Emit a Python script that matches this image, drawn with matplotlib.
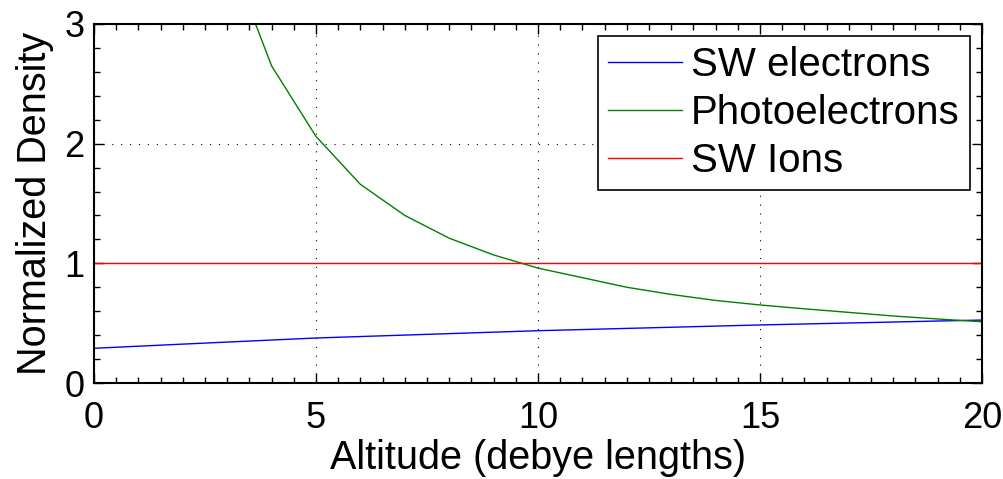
import matplotlib
matplotlib.use("Agg")
import matplotlib.pyplot as plt
from matplotlib.ticker import MultipleLocator

plt.rcParams['font.family'] = ['Liberation Sans', 'DejaVu Sans']

# Data
x_blue = [0, 2, 5, 10, 15, 20]
y_blue = [0.29, 0.325, 0.376, 0.437, 0.485, 0.526]

x_green = [3, 4, 5, 6, 7, 8, 9, 10, 11, 12, 13, 14, 15, 16, 17, 18, 19, 20]
y_green = [3.62, 2.65, 2.06, 1.66, 1.40, 1.21, 1.07, 0.96, 0.88, 0.80, 0.74,
           0.69, 0.652, 0.62, 0.59, 0.56, 0.535, 0.512]

x_red = [0, 20]
y_red = [1.0, 1.0]

labels = ["SW electrons", "Photoelectrons", "SW Ions"]
xlabel = "Altitude (debye lengths)"
ylabel = "Normalized Density"

fig = plt.figure(figsize=(10.04, 4.79), dpi=100)
ax = fig.add_axes([0.0936, 0.2004, 0.9781 - 0.0936, 0.950 - 0.2004])

ax.plot(x_blue, y_blue, color=(0, 0, 1), lw=1.0, label=labels[0])
ax.plot(x_green, y_green, color=(0, 0.5, 0), lw=1.0, label=labels[1])
ax.plot(x_red, y_red, color=(1, 0, 0), lw=1.0, label=labels[2])

ax.set_xlim(0, 20)
ax.set_ylim(0, 3)
ax.xaxis.set_major_locator(MultipleLocator(5))
ax.xaxis.set_minor_locator(MultipleLocator(0.5))
ax.yaxis.set_major_locator(MultipleLocator(1))
ax.yaxis.set_minor_locator(MultipleLocator(0.2))

ax.grid(True, which='major', color='black', linestyle=(0, (1, 7)), lw=0.8)
ax.tick_params(which='both', direction='in', top=True, right=True,
               width=1.0, labelsize=26, color='black')
ax.tick_params(which='major', length=7)
ax.tick_params(axis='x', which='major', pad=13)
ax.tick_params(axis='y', which='major', pad=7)
ax.tick_params(which='minor', length=4)
for s in ax.spines.values():
    s.set_linewidth(1.5)

ax.set_xlabel(xlabel, fontsize=28.5, labelpad=2)
ax.set_ylabel(ylabel, fontsize=28.5, labelpad=7)

leg = ax.legend(loc='upper right', fontsize=29, frameon=True, fancybox=False,
                edgecolor='black', framealpha=1, handlelength=1.85,
                handletextpad=0.22, labelspacing=0.25, borderpad=0.25,
                borderaxespad=0.3)
leg.get_frame().set_linewidth(1.2)

fig.savefig("out.png", dpi=100)
